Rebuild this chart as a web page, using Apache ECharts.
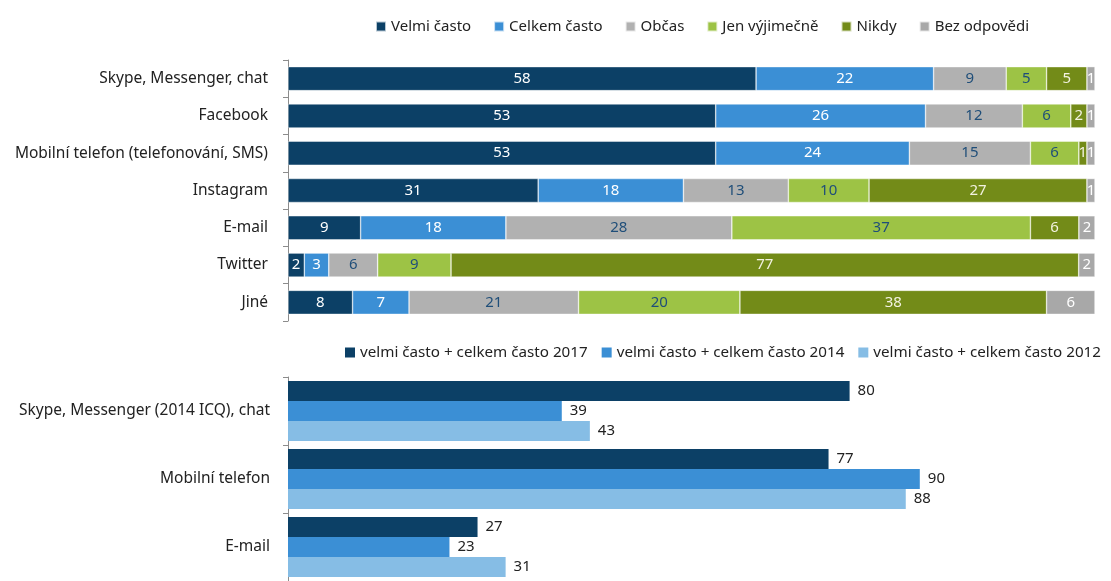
<!DOCTYPE html>
<html>
<head>
  <meta charset="utf-8" />
  <title>Komunikace</title>
  <style>
    html, body { margin: 0; padding: 0; background: #fff; }
    #chart { width: 1111px; height: 581px; }
  </style>
</head>
<body>
  <div id="chart"></div>
  <script src="https://cdn.jsdelivr.net/npm/echarts@6/dist/echarts.min.js"></script>
  <script>
    // horni graf - jak casto
    var topCategories = ['Skype, Messenger, chat', 'Facebook', 'Mobilní telefon (telefonování, SMS)', 'Instagram', 'E-mail', 'Twitter', 'Jiné'];
    var topNames = ['Velmi často', 'Celkem často', 'Občas', 'Jen výjimečně', 'Nikdy', 'Bez odpovědi'];
    var velmiCasto = [58, 53, 53, 31, 9, 2, 8];
    var celkemCasto = [22, 26, 24, 18, 18, 3, 7];
    var obcas = [9, 12, 15, 13, 28, 6, 21];
    var jenVyjimecne = [5, 6, 6, 10, 37, 9, 20];
    var nikdy = [5, 2, 1, 27, 6, 77, 38];
    var bezOdpovedi = [1, 1, 1, 1, 2, 2, 6];

    // dolni graf - srovnani let
    var bottomCategories = ['Skype, Messenger (2014 ICQ), chat', 'Mobilní telefon', 'E-mail'];
    var bottomNames = ['velmi často + celkem často 2017', 'velmi často + celkem často 2014', 'velmi často + celkem často 2012'];
    var val2017 = [80, 77, 27];
    var val2014 = [39, 90, 23];
    var val2012 = [43, 88, 31];

    var topColors = ['#0c4066', '#3b8fd5', '#b1b1b1', '#9dc345', '#738b18', '#a8a8a8'];
    var topLabelColors = ['#fff', '#fff', '#1f4e79', '#1f4e79', '#f2f2e0', '#fff'];
    var bottomColors = ['#0c4066', '#3b8fd5', '#86bde5'];

    var fontMain = 'Noto Sans';

    var topSeriesValues = [velmiCasto, celkemCasto, obcas, jenVyjimecne, nikdy, bezOdpovedi];
    var rowTotals = topCategories.map(function (c, i) {
      return topSeriesValues.reduce(function (s, arr) { return s + arr[i]; }, 0);
    });

    var series = [];
    topSeriesValues.forEach(function (arr, k) {
      series.push({
        name: topNames[k],
        type: 'bar',
        stack: 'top',
        xAxisIndex: 0,
        yAxisIndex: 0,
        barWidth: 24,
        itemStyle: { color: topColors[k], borderColor: 'rgba(255,255,255,0.7)', borderWidth: 0.6 },
        label: {
          show: true,
          position: 'inside',
          color: topLabelColors[k],
          fontFamily: fontMain,
          fontSize: 15,
          formatter: function (p) { return p.data.raw; }
        },
        data: arr.map(function (v, i) { return { value: v / rowTotals[i] * 100, raw: v }; })
      });
    });

    [val2017, val2014, val2012].forEach(function (arr, k) {
      series.push({
        name: bottomNames[k],
        type: 'bar',
        xAxisIndex: 1,
        yAxisIndex: 1,
        barWidth: 20,
        barGap: '0%',
        itemStyle: { color: bottomColors[k] },
        label: {
          show: true,
          position: 'right',
          distance: 8,
          color: '#222',
          fontFamily: fontMain,
          fontSize: 15
        },
        data: arr
      });
    });

    var option = {
      animation: false,
      legend: [
        {
          data: topNames,
          left: 370,
          top: 14,
          itemWidth: 10,
          itemHeight: 10,
          itemGap: 22,
          icon: 'rect',
          textStyle: { fontFamily: fontMain, fontSize: 15, color: '#222' }
        },
        {
          data: bottomNames,
          left: 345,
          top: 345,
          width: 800,
          padding: 0,
          itemWidth: 10,
          itemHeight: 10,
          itemGap: 14,
          icon: 'rect',
          textStyle: { fontFamily: fontMain, fontSize: 15.2, color: '#222' }
        }
      ],
      grid: [
        { left: 288, right: 16, top: 60, height: 261 },
        { left: 288, right: 121, top: 377, bottom: -4 }
      ],
      xAxis: [
        { gridIndex: 0, type: 'value', min: 0, max: 100, show: false },
        { gridIndex: 1, type: 'value', min: 0, max: 100, show: false }
      ],
      yAxis: [
        {
          gridIndex: 0,
          type: 'category',
          inverse: true,
          data: topCategories,
          axisLine: { lineStyle: { color: '#8c8c8c' } },
          axisTick: { show: true, length: 5, lineStyle: { color: '#8c8c8c' } },
          axisLabel: { fontFamily: fontMain, fontSize: 15.5, color: '#222', margin: 20 }
        },
        {
          gridIndex: 1,
          type: 'category',
          inverse: true,
          data: bottomCategories,
          axisLine: { lineStyle: { color: '#8c8c8c' } },
          axisTick: { show: true, length: 5, lineStyle: { color: '#8c8c8c' } },
          axisLabel: { fontFamily: fontMain, fontSize: 15.5, color: '#222', margin: 18 }
        }
      ],
      series: series
    };

    var myChart = echarts.init(document.getElementById('chart'));
    myChart.setOption(option);
  </script>
</body>
</html>
